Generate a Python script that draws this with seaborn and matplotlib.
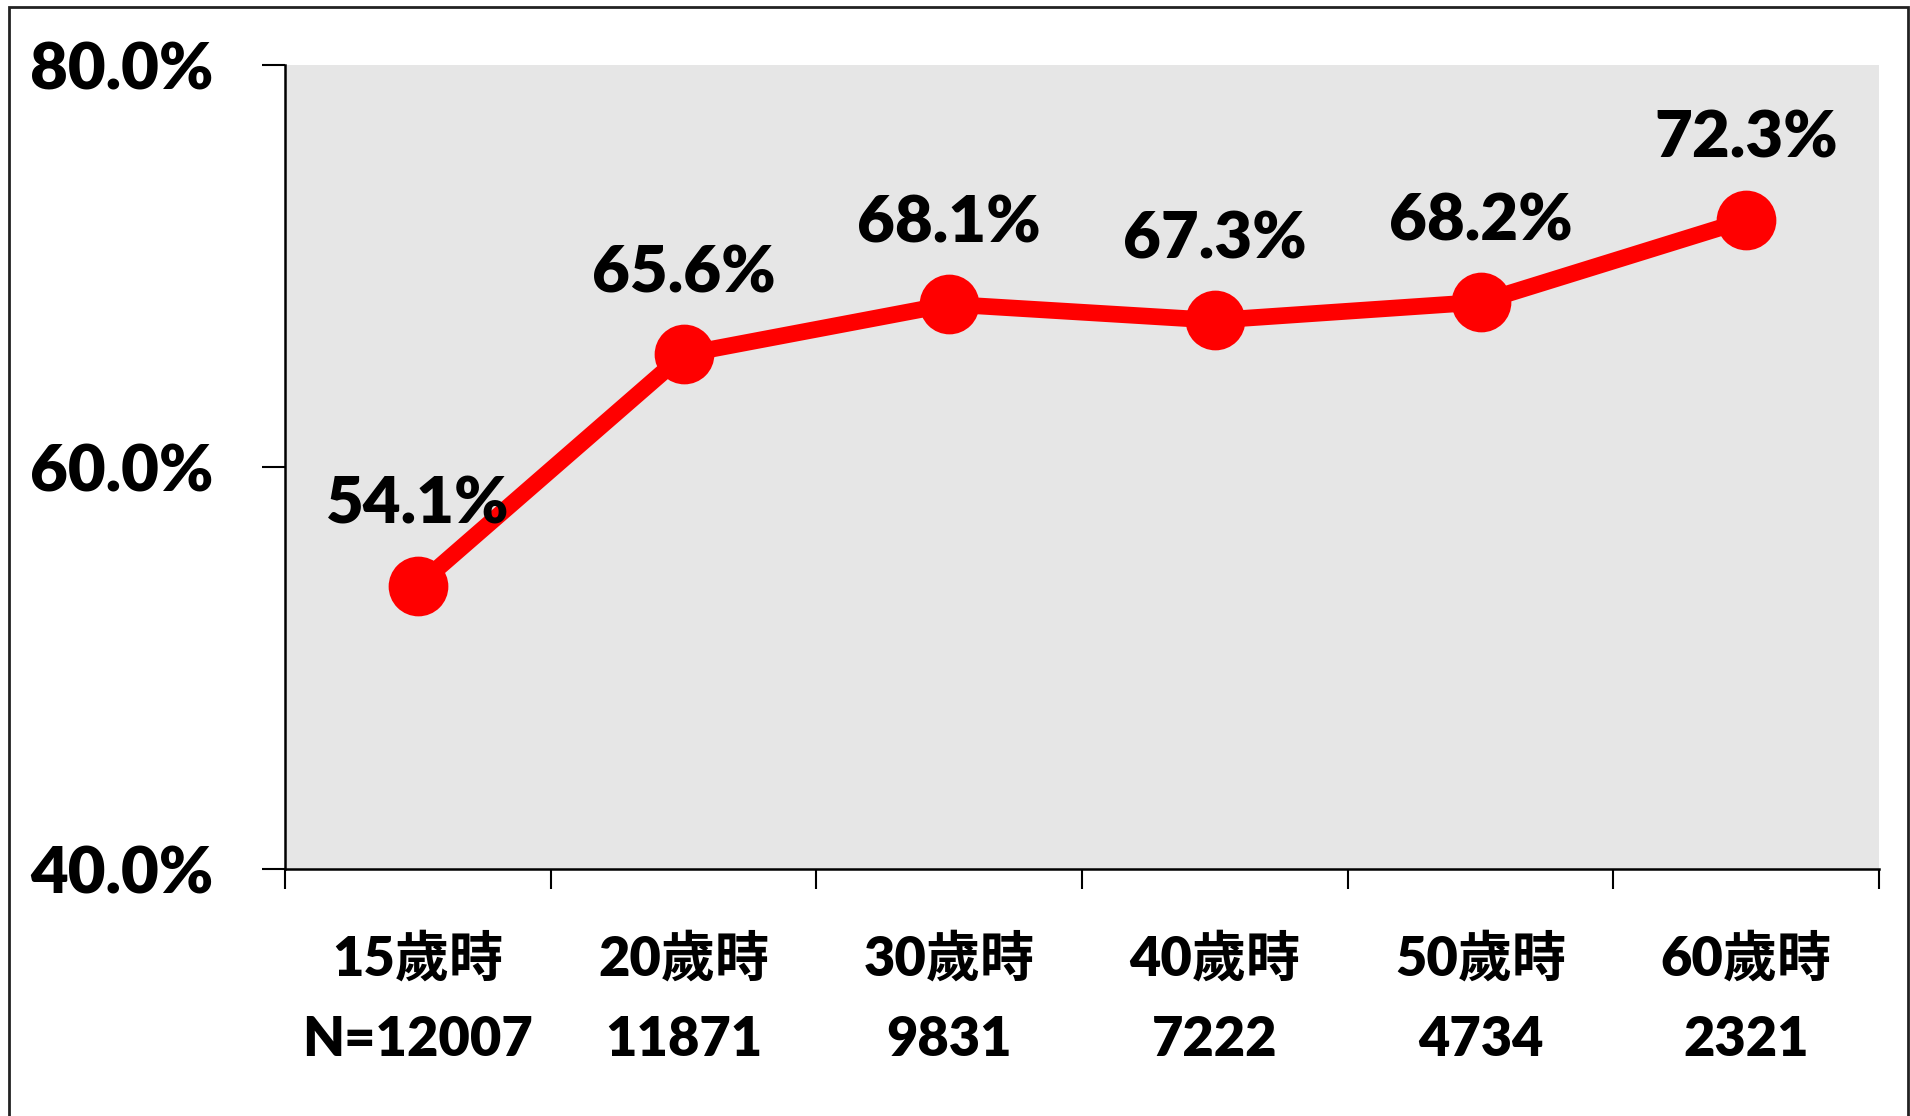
import matplotlib
matplotlib.use("Agg")
import matplotlib.pyplot as plt
import seaborn as sns
import pandas as pd
from matplotlib.patches import Rectangle

ages = ["15歲時", "20歲時", "30歲時", "40歲時", "50歲時", "60歲時"]
counts = ["N=12007", "11871", "9831", "7222", "4734", "2321"]
values = [54.1, 65.6, 68.1, 67.3, 68.2, 72.3]
yticks = [40.0, 60.0, 80.0]

sns.set_theme(style="white")
plt.rcParams['font.family'] = ['Lato', 'Noto Sans CJK TC', 'DejaVu Sans']
plt.rcParams['font.weight'] = 'heavy'
plt.rcParams['text.color'] = 'black'
plt.rcParams['xtick.labelcolor'] = 'black'
plt.rcParams['ytick.labelcolor'] = 'black'
plt.rcParams['xtick.color'] = 'black'
plt.rcParams['ytick.color'] = 'black'

W, H = 1910, 1116
dpi = 100
fig = plt.figure(figsize=(W / dpi, H / dpi), dpi=dpi)
fig.patch.set_facecolor("white")
ax = fig.add_axes([285 / W, 1 - 869 / H, (1879 - 285) / W, (869 - 65) / H])
ax.set_facecolor("#e6e6e6")

df = pd.DataFrame({"pos": list(range(len(ages))), "value": values})
sns.lineplot(data=df, x="pos", y="value", ax=ax, color="#ff0000", linewidth=12,
             marker="o", markersize=43, markeredgewidth=0, markerfacecolor="#ff0000",
             solid_capstyle="butt")

for i, v in enumerate(values):
    ax.annotate(f"{v:.1f}%", xy=(i, v), xytext=(0, 58), textcoords="offset points",
                ha="center", va="center", fontsize=47, fontweight="heavy", color="black")

ax.set_xlim(-0.5, len(ages) - 0.5)
ax.set_ylim(40, 80)
ax.set_yticks(yticks)
ax.set_yticklabels([f"{t:.1f}%" for t in yticks], fontsize=47, fontweight="heavy", color="black")
ax.tick_params(axis="y", direction="out", length=16.5, width=1.5, pad=35, color="black", left=True)

ax.set_xticks(list(range(len(ages))))
ax.set_xticklabels([f"{a}\n{c}" for a, c in zip(ages, counts)], fontsize=39, fontweight="heavy",
                   linespacing=1.75, color="black")
ax.tick_params(axis="x", which="major", length=0, pad=46)
ax.set_xticks([i - 0.5 for i in range(len(ages) + 1)], minor=True)
ax.tick_params(axis="x", which="minor", direction="out", length=14.5, width=1.5, color="black", bottom=True)

ax.set_xlabel("")
ax.set_ylabel("")
for s in ["top", "right"]:
    ax.spines[s].set_visible(False)
for s in ["left", "bottom"]:
    ax.spines[s].set_color("black")
    ax.spines[s].set_linewidth(1.8)
ax.grid(False)

fig.patches.append(Rectangle((9 / W, -0.02), (1908 - 9) / W, 1.02 - 7 / H, transform=fig.transFigure,
                             fill=False, edgecolor="#222222", linewidth=2))

fig.savefig("out.png", dpi=dpi)
